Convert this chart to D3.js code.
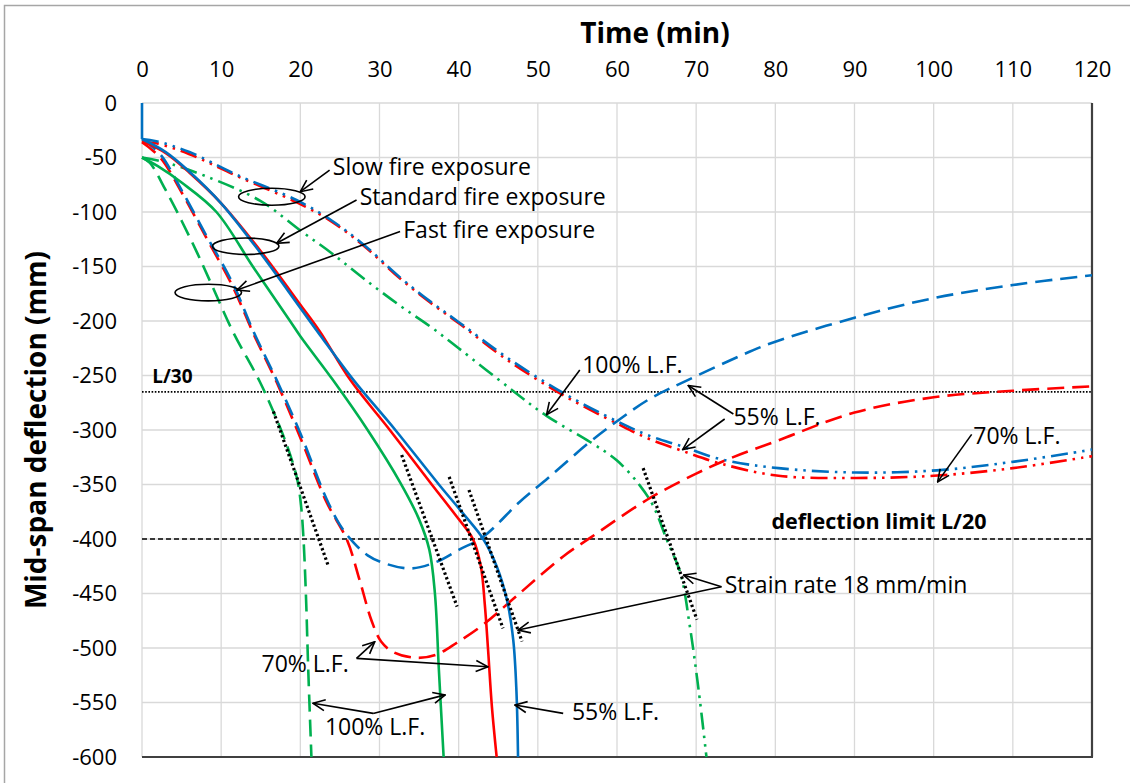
<!DOCTYPE html>
<html><head><meta charset="utf-8">
<script src="https://cdn.jsdelivr.net/npm/d3@7"></script>
<style>
html,body{margin:0;padding:0;background:#fff;}
svg{display:block;font-family:"Open Sans",sans-serif;}
</style></head>
<body>
<svg id="chart" width="1130" height="783"></svg>
<script>
// ---------- DATA ----------
const timeTicks = [0,10,20,30,40,50,60,70,80,90,100,110,120];
const defTicks = [0,-50,-100,-150,-200,-250,-300,-350,-400,-450,-500,-550,-600];
const limitL30 = -265;
const limitL20 = -400;

// Standard fire exposure (solid)
const stdBlue55 = [[0,0],[0,-33],[3,-45],[6,-63],[10,-92],[15,-138],[20,-188],[22.5,-213],[26.7,-254],[32,-300],[37.5,-350],[40.6,-377],[43.1,-400],[44.8,-425],[46.1,-456],[46.9,-493],[47.3,-540],[47.5,-600]];
const stdRed70 = [[0,-35],[3,-46],[6,-64],[10,-92],[15,-136],[20,-185],[22.5,-210],[26.3,-254],[31.3,-300],[36.6,-350],[39.6,-378],[41.8,-400],[42.8,-425],[43.3,-460],[43.7,-500],[44.2,-554],[44.8,-600]];
const stdGreen100 = [[0,-50],[2,-58],[5,-73],[9.4,-100],[14,-150],[18.7,-200],[20,-214],[24.1,-254],[28.5,-300],[32.6,-348],[35,-382],[36.3,-410],[37,-450],[37.5,-520],[38.1,-600]];

// Fast fire exposure (long dash)
const fastBlue55 = [[0,-33],[2.3,-47],[5,-80],[8,-120],[11.5,-166],[14.1,-210],[17,-254],[20,-303],[23.3,-363],[25,-387],[26.7,-403],[28.5,-415],[30.5,-422],[33.9,-427],[37.2,-421],[40,-410],[43.1,-398],[47.7,-366],[51.3,-344],[56.4,-312],[60,-292],[64,-272],[69,-254],[76.8,-228],[80,-219],[90,-197],[100,-179],[110,-167],[120,-158]];
const fastRed70 = [[0,-36],[2.3,-50],[5,-82],[8,-122],[11.5,-169],[14.1,-212],[17,-256],[20,-307],[23.3,-366],[25.9,-401],[27.5,-438],[29,-475],[30.2,-494],[31.8,-504],[34.7,-509],[37.2,-506],[39.8,-495],[43.2,-478],[47.2,-453],[53.2,-416],[56.6,-399],[63.8,-364],[70,-340],[74.3,-326],[80.2,-310],[90,-284],[100,-270],[110,-264],[120,-260]];
const fastGreen100 = [[0,-50],[1,-55],[3,-80],[5,-108],[7,-138],[9,-170],[11.5,-210],[14.9,-256],[17,-290],[18.5,-318],[19.6,-345],[20.1,-370],[20.4,-400],[20.7,-450],[21,-520],[21.4,-600]];

// Slow fire exposure (dash-dot-dot)
const slowBlue55 = [[0,-33],[1.8,-35],[6,-45],[12,-66],[19.5,-89],[24,-108],[28,-130],[32.6,-160],[36.4,-182],[40.2,-202],[46,-233],[53.2,-266],[60,-292],[64,-305],[68.2,-315],[73.2,-327],[80.4,-335],[90.2,-339],[100.4,-337],[110.2,-329],[120,-318]];
const slowRed70 = [[0,-36],[1.8,-37],[6,-47],[12,-67],[19.5,-91],[24,-109],[28,-131],[32.6,-161],[36.4,-183],[40.2,-203],[46,-235],[53.2,-268],[60,-294],[64,-308],[68.2,-319],[73.2,-331],[80.4,-342],[90.2,-344],[100,-342],[110,-335],[120,-324]];
const slowGreen100 = [[0,-50],[2.7,-54],[8,-67],[15,-90],[20,-117],[24,-138],[28,-161],[32.6,-186],[36.4,-205],[40,-225],[46.5,-262],[51.1,-287],[56.6,-311],[60,-328],[62.9,-351],[64.6,-370],[66.3,-401],[68,-431],[69.2,-480],[70.3,-538],[71.3,-600]];

// Strain-rate tangent markers (start, end) in data units
const strainLines = [
  [[16.6,-283],[23.5,-424]],
  [[32.8,-323],[39.8,-462]],
  [[38.8,-343],[45.6,-482]],
  [[41.3,-355],[48.0,-494]],
  [[63.3,-335],[70.1,-474]]
];
// Ellipses marking fire exposure groups: [t, d, rt, rd]
const ellipses = [[16.4,-86,4.2,7.8],[13.1,-131.4,4.2,7.6],[8.37,-173.9,4.2,7.6]];
// Annotation texts: [label, t, d, bold]
const labels = [
  ["Slow fire exposure",24.1,-66,false],
  ["Standard fire exposure",27.5,-93.6,false],
  ["Fast fire exposure",33,-124,false],
  ["100% L.F.",55.6,-247.7,false],
  ["55% L.F.",74.7,-295,false],
  ["70% L.F.",105,-312.8,false],
  ["Strain rate 18 mm/min",73.6,-449.5,false],
  ["70% L.F.",15.1,-522,false],
  ["100% L.F.",23.1,-579.8,false],
  ["55% L.F.",54.3,-566,false],
  ["deflection limit L/20",79.5,-390.8,true],
  ["L/30",1.3,-257,true]
];
// Arrows: [fromT, fromD, toT, toD]
const arrows = [
  [23.7,-61.5,20,-81.4],
  [27.1,-89,17,-128.7],
  [32.6,-118,12,-171.6],
  [55.3,-245,51.1,-286],
  [74.7,-285.3,69,-259.2],
  [73.6,-289.9,68.3,-318],
  [104.8,-304,100.5,-347.6],
  [73.2,-443.8,68.4,-433],
  [73.2,-443.8,47.5,-483.5],
  [27.1,-509.5,29.4,-494.2],
  [27.1,-509.5,43.7,-517.2],
  [29.2,-560,21.6,-550.7],
  [29.2,-560,38.3,-543],
  [53.2,-560,47.1,-552.3]
];

// ---------- STYLE ----------
const BLUE="#0070C0", RED="#FF0000", GREEN="#00B050";
const FAST="17,8", SLOW="17,6,2.5,6,2.5,6";

const series = [
  {d:slowGreen100,c:GREEN,dash:SLOW},
  {d:slowRed70,c:RED,dash:SLOW},
  {d:slowBlue55,c:BLUE,dash:SLOW},
  {d:fastGreen100,c:GREEN,dash:FAST},
  {d:fastRed70,c:RED,dash:FAST},
  {d:fastBlue55,c:BLUE,dash:FAST},
  {d:stdGreen100,c:GREEN,dash:null},
  {d:stdRed70,c:RED,dash:null},
  {d:stdBlue55,c:BLUE,dash:null}
];

const svg = d3.select("#chart");
const x = d3.scaleLinear().domain([0,120]).range([142,1092]);
const y = d3.scaleLinear().domain([0,-600]).range([103,757]);

// outer frame
svg.append("path").attr("d","M4.5,790 L4.5,5.5 L1135,5.5").attr("fill","none").attr("stroke","#a6a6a6").attr("stroke-width",1.5);

const defs = svg.append("defs");
defs.append("clipPath").attr("id","plot").append("rect")
  .attr("x",x(0)-3).attr("y",y(0)-1).attr("width",x(120)-x(0)+3).attr("height",y(-600)-y(0)+1);
defs.append("marker").attr("id","arr").attr("viewBox","0 0 14 14")
  .attr("refX",13).attr("refY",7).attr("markerWidth",14).attr("markerHeight",14)
  .attr("markerUnits","userSpaceOnUse").attr("orient","auto")
  .append("path").attr("d","M1,1.5 L13,7 L1,12.5").attr("fill","none")
  .attr("stroke","#000").attr("stroke-width",1.6);

// gridlines
const g = svg.append("g");
g.selectAll(".vg").data(timeTicks).join("line")
  .attr("x1",d=>x(d)).attr("x2",d=>x(d)).attr("y1",y(0)).attr("y2",y(-600))
  .attr("stroke","#d9d9d9").attr("stroke-width",1.3);
g.selectAll(".hg").data(defTicks).join("line")
  .attr("x1",x(0)).attr("x2",x(120)).attr("y1",d=>y(d)).attr("y2",d=>y(d))
  .attr("stroke","#d9d9d9").attr("stroke-width",1.3);
// bottom and right axis lines
svg.append("line").attr("x1",x(0)).attr("x2",x(120)+1).attr("y1",y(-600)).attr("y2",y(-600)).attr("stroke","#404040").attr("stroke-width",2.2);
svg.append("line").attr("x1",x(120)).attr("x2",x(120)).attr("y1",y(0)).attr("y2",y(-600)).attr("stroke","#404040").attr("stroke-width",2.2);

// axes
const xAxis = svg.append("g").attr("transform",`translate(0,${y(0)})`)
  .call(d3.axisTop(x).tickValues(timeTicks).tickSize(0).tickPadding(26).tickFormat(d3.format("d")));
const yAxis = svg.append("g").attr("transform",`translate(${x(0)},0)`)
  .call(d3.axisLeft(y).tickValues(defTicks).tickSize(0).tickPadding(25).tickFormat(d=>d===0?"0":"-"+Math.abs(d)));
[xAxis,yAxis].forEach(a=>{
  a.select(".domain").remove();
  a.selectAll("text").attr("font-family","'Open Sans',sans-serif").attr("font-size",22).attr("fill","#000");
});

// axis titles
svg.append("text").attr("x",(x(0)+x(120))/2+38).attr("y",43).attr("text-anchor","middle")
  .attr("font-size",28).attr("font-weight","bold").text("Time (min)");
svg.append("text").attr("transform",`translate(46,${(y(0)+y(-600))/2}) rotate(-90)`).attr("text-anchor","middle")
  .attr("font-size",28).attr("font-weight","bold").text("Mid-span deflection (mm)");

// reference lines
svg.append("line").attr("x1",x(0)).attr("x2",x(120)).attr("y1",y(limitL30)).attr("y2",y(limitL30))
  .attr("stroke","#000").attr("stroke-width",1.6).attr("stroke-dasharray","1.6,1.6");
svg.append("line").attr("x1",x(0)).attr("x2",x(120)).attr("y1",y(limitL20)).attr("y2",y(limitL20))
  .attr("stroke","#000").attr("stroke-width",1.6).attr("stroke-dasharray","5,3");

// curves (a leading vertical step at t=0 is drawn straight, the rest smoothed)
const line = d3.line().x(d=>x(d[0])).y(d=>y(d[1])).curve(d3.curveCatmullRom.alpha(0.5));
const lineStraight = d3.line().x(d=>x(d[0])).y(d=>y(d[1]));
const cg = svg.append("g").attr("clip-path","url(#plot)");
series.forEach(s=>{
  let pts = s.d;
  if (pts.length > 2 && pts[0][0] === pts[1][0]) {
    cg.append("path").attr("d",lineStraight(pts.slice(0,2))).attr("fill","none").attr("stroke",s.c)
      .attr("stroke-width",2.6).attr("stroke-dasharray",s.dash);
    pts = pts.slice(1);
  }
  cg.append("path").attr("d",line(pts)).attr("fill","none").attr("stroke",s.c)
    .attr("stroke-width",2.6).attr("stroke-dasharray",s.dash).attr("stroke-linejoin","round");
});

// strain-rate dotted lines
svg.selectAll(".sl").data(strainLines).join("line")
  .attr("x1",d=>x(d[0][0])).attr("y1",d=>y(d[0][1])).attr("x2",d=>x(d[1][0])).attr("y2",d=>y(d[1][1]))
  .attr("stroke","#000").attr("stroke-width",3.2).attr("stroke-dasharray","2.4,2.6");

// ellipses
svg.selectAll(".el").data(ellipses).join("ellipse")
  .attr("cx",d=>x(d[0])).attr("cy",d=>y(d[1]))
  .attr("rx",d=>x(d[2])-x(0)).attr("ry",d=>y(-d[3])-y(0))
  .attr("fill","none").attr("stroke","#000").attr("stroke-width",1.6);

// arrows
svg.selectAll(".ar").data(arrows).join("line")
  .attr("x1",d=>x(d[0])).attr("y1",d=>y(d[1])).attr("x2",d=>x(d[2])).attr("y2",d=>y(d[3]))
  .attr("stroke","#000").attr("stroke-width",1.6).attr("marker-end","url(#arr)");

// labels
svg.selectAll(".lb").data(labels).join("text")
  .attr("x",d=>x(d[1])).attr("y",d=>y(d[2]))
  .attr("font-size",d=>d[3]?(d[0]==="L/30"?19:21.5):23)
  .attr("font-weight",d=>d[3]?"bold":"normal")
  .attr("fill","#000").text(d=>d[0]);
</script>
</body></html>
